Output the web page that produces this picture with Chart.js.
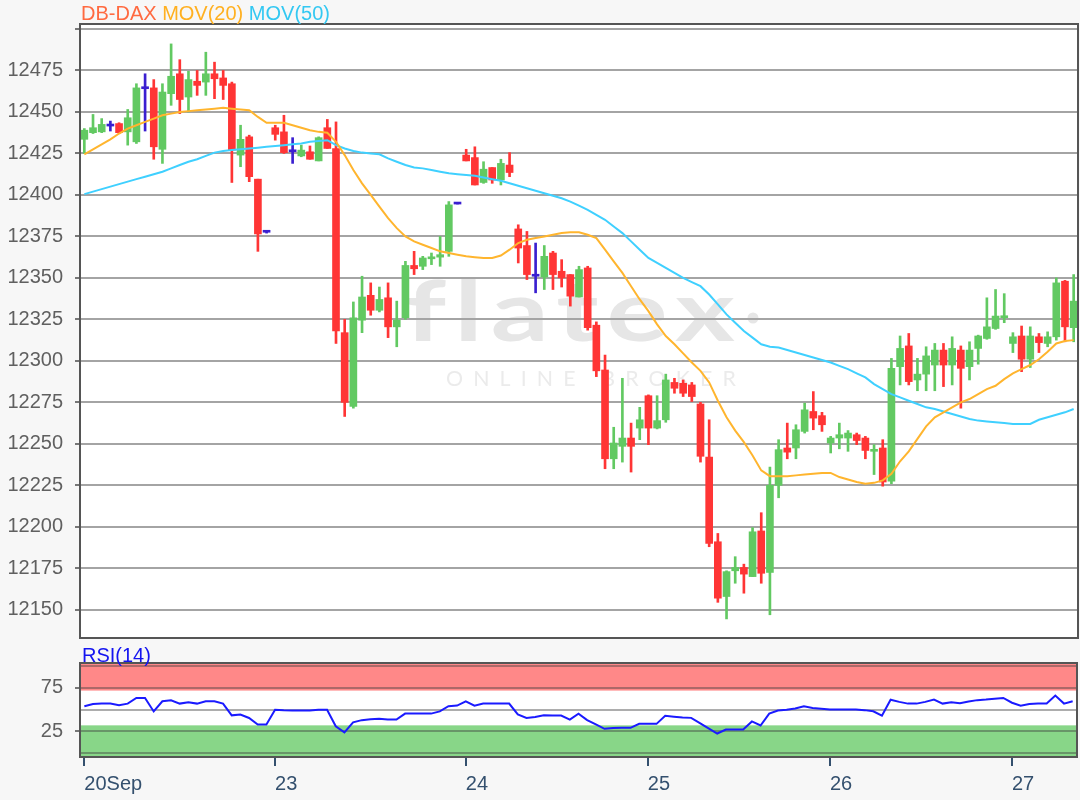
<!DOCTYPE html>
<html>
<head>
<meta charset="utf-8">
<script src="https://cdn.jsdelivr.net/npm/chart.js@4"></script>
<style>
html,body{margin:0;padding:0;background:#f7f7f7;}
#wrap{position:relative;width:1080px;height:800px;overflow:hidden;font-family:"Liberation Sans",Arial,sans-serif;}
#c1{position:absolute;left:0;top:0;}
#c2{position:absolute;left:0;top:639px;}
.t{position:absolute;font-size:20px;line-height:20px;white-space:pre;z-index:2;}
</style>
</head>
<body>
<div id="wrap">
<canvas id="c1" width="1080" height="662"></canvas>
<canvas id="c2" width="1080" height="161"></canvas>
<div class="t" style="left:81px;top:3px"><span style="color:#ff6a40">DB-DAX</span> <span style="color:#ffb020">MOV(20)</span> <span style="color:#33c8f2">MOV(50)</span></div>
<div class="t" style="left:82px;top:645px;color:#1414f0">RSI(14)</div>
</div>
<script>
// ---------- DATA ----------
const dayTickIndex  = [0, 22, 44, 65, 86, 107];
const dayTickLabels = ['20Sep', '23', '24', '25', '26', '27'];
const priceTicks = [12150,12175,12200,12225,12250,12275,12300,12325,12350,12375,12400,12425,12450,12475,12500];
const rsiGridValues = [0, 25, 50, 75, 100];
const rsiLabelValues = [25, 75];
const rsiOverbought = 72;
const rsiOversold = 32;

const opens = [12433.5,12437.5,12438,12441.5,12443,12438,12432,12464,12464.5,12427.5,
12461,12473,12459,12468.5,12468,12473,12470.5,12467,12424,12435,
12409.5,12377.5,12440.5,12438,12426,12423.5,12426,12420.5,12440.5,12428,
12317,12272.5,12324.5,12339.5,12330.5,12338,12320.5,12326,12357.5,12357,
12361.5,12362.5,12366,12394.5,12424,12422.5,12407.5,12416.5,12409,12418,
12379.5,12369.5,12351,12350.5,12365,12354,12352,12338.5,12356,12321.5,
12294.5,12241,12248.5,12253.5,12259.5,12279,12259.5,12264.5,12287,12286.5,
12285.5,12274,12242,12191,12158,12173.5,12175.5,12170,12197.5,12172.5,
12225,12247.5,12247.5,12257.5,12269.5,12267,12250.5,12253.5,12253.5,12255.5,
12253.5,12245.5,12247.5,12227.5,12296.5,12309,12288.5,12292,12297.5,12306.5,
12297.5,12306.5,12296.5,12307.5,12313.5,12319.5,12326,12310.5,12315,12301,
12314.5,12310.5,12314.5,12348,12320];

const highs = [12440,12448.5,12446,12444.5,12443.5,12451.5,12467,12473,12469.5,12467,
12491,12481.5,12474.5,12475,12486,12480,12475,12468,12442,12436,
12409.5,12378,12442,12448,12434.5,12430,12429.5,12435,12445.5,12444,
12325,12335.5,12351,12347,12344.5,12347,12336,12360,12366,12363,
12365,12375,12396,12394.5,12427.5,12429,12420,12416.5,12421.5,12425.5,
12382,12378,12371,12369.5,12366,12361,12352,12357,12357,12323.5,
12303.5,12260,12289.5,12262.5,12272,12279.5,12279,12292,12289.5,12288.5,
12287,12275,12264.5,12196,12173.5,12182,12177.5,12199.5,12208.5,12236,
12252.5,12262.5,12261.5,12274.5,12281.5,12269,12254.5,12262.5,12258,12256.5,
12254.5,12249.5,12252.5,12301.5,12315,12316.5,12301.5,12308.5,12310.5,12310.5,
12314.5,12309,12311.5,12315.5,12338,12343,12340.5,12317,12321,12320.5,
12316.5,12317.5,12350,12348.5,12352];

const lows = [12425,12437,12437.5,12438.5,12437,12430,12431,12438.5,12421.5,12419,
12454,12449,12450,12460,12460,12458,12457.5,12407.5,12417,12408,
12366,12377,12433,12425,12419,12423,12421.5,12420.5,12428,12310.5,
12266.5,12271.5,12317,12327.5,12329.5,12314,12308.5,12325,12352,12355,
12358,12357,12363,12394.5,12420.5,12406,12407,12407,12406,12411,
12359,12349,12341,12343,12343,12344.5,12333,12338.5,12318.5,12290.5,
12235,12235,12239,12233,12252.5,12249.5,12259,12263,12280.5,12278.5,
12275.5,12239,12188,12154.5,12144.5,12166,12160,12170,12166,12147,
12217.5,12241,12241,12256.5,12258.5,12257.5,12244.5,12247,12245.5,12249.5,
12241,12231.5,12224.5,12226,12285.5,12285.5,12282,12282,12282,12284.5,
12285.5,12271.5,12288.5,12298,12313,12319,12323,12305,12293.5,12296,
12305,12308.5,12312.5,12311.5,12311.5];

const closes = [12439,12440.5,12442.5,12441.5,12437.5,12446.5,12464.5,12464,12429,12462,
12471.5,12457.5,12469.5,12466,12473,12470,12466,12427,12433.5,12411,
12376.5,12377.5,12436.5,12425.5,12426,12427,12421.5,12434.5,12428,12318,
12275,12326,12338.5,12330.5,12337,12320.5,12324.5,12357.5,12355.5,12362,
12362,12364,12394,12394.5,12420.5,12406,12415.5,12409,12419,12413.5,
12368,12352,12351,12363,12352,12350,12339,12355,12320,12294,
12241,12250.5,12253.5,12248.5,12264.5,12259.5,12264,12288.5,12283.5,12280.5,
12278.5,12242.5,12190,12157,12173,12175.5,12171.5,12197,12172,12225,
12246.5,12245,12258.5,12270.5,12265.5,12261.5,12253.5,12255.5,12256.5,12252,
12246,12246.5,12227,12295.5,12307.5,12287.5,12292,12303,12306.5,12297.5,
12307.5,12295.5,12306.5,12315,12320.5,12327,12327,12314.5,12301,12315,
12311,12314.5,12347,12320.5,12336];

const ma20 = [12424.5,12427.5,12430.5,12433.5,12437,12440,12442,12444,12446,12448,
12449,12450,12450.5,12451,12451.5,12452,12452.5,12452,12451.5,12451,
12447,12443.5,12443.5,12443.5,12442,12440.5,12439,12438,12437.5,12432,
12424,12415,12407,12400,12393,12386,12380,12375,12372,12370,
12368,12366,12365,12364,12363,12362.5,12362,12362,12363.5,12367,
12371,12373,12374,12375,12376,12377,12377.5,12377.5,12376,12374,
12367,12360,12353,12345,12337,12330,12322,12315,12310,12304.5,
12299,12294,12287,12276,12266,12258,12251,12243,12234,12230.5,
12230.5,12230.5,12231,12231.5,12232,12232.5,12232.5,12230,12228.5,12227,
12226,12226.5,12228,12232,12239.5,12245.5,12253,12260.5,12266,12269,
12272,12275,12277,12280,12283,12285,12289,12292.5,12295,12297.5,
12301,12305.5,12310.5,12312,12312.5];

const ma50 = [12400.5,12402,12403.5,12405,12406.5,12408,12409.5,12411,12412.5,12414,
12416,12418,12420,12421.5,12423.5,12425.5,12426.5,12427,12427.5,12428,
12428.5,12429,12429.5,12430,12430.5,12431,12432,12432.5,12433,12430,
12428,12426.5,12425.5,12425,12424.5,12422,12420,12418,12416.5,12416,
12415,12414,12413,12412.5,12412,12411.5,12410.5,12409.5,12408.5,12407,
12405.5,12404,12402.5,12401,12399.5,12398,12396,12393.5,12391,12388,
12385,12381,12377,12372,12367,12362,12359,12356,12353,12350,
12347.5,12345,12340,12334,12328,12323,12318,12314,12310,12308.5,
12308,12306.5,12305,12303.5,12302,12300.5,12299,12297,12295,12292.5,
12290,12286,12283,12280,12278,12276,12274,12272,12271,12269.5,
12268,12266.5,12265,12264,12263.5,12263,12262.5,12262,12262,12262,
12264.5,12266,12267.5,12269,12271];

const rsi = [54,56.5,57,57,55,57,63.5,63.5,48,59.7,
60.8,57,58.5,57,59.7,59.7,57,43.5,44.5,40.5,
33,33,50,49.3,49.2,49.1,49,50,50,31,
24,35.5,38,39,39.5,38.7,38.6,45.5,45.5,45.5,
45.5,48,54,54.7,59.7,54.7,57,57,57,57,
44.5,40.6,41.7,43.5,43.2,43.2,38.6,45.5,38,33,
28,29,29.1,29.1,33.7,33.7,33.7,43,42,41,
40.6,34.5,28.5,22.6,27.2,27.2,27.2,36.5,31.8,45.5,
49,50,51.3,54,52,51,50.1,50.1,50.1,50.1,
49.5,48.2,43.2,61.5,59,57,57,59,61.6,57,
58.5,57.5,59.5,61,61.6,62.5,63.5,58,54.5,56.5,
57,57,66.2,57,59.7];

// ---------- BUILD ----------
const GREEN = '#62c962', RED = '#ff3535', BLUE = '#3a1fd0';
const idxLabels = opens.map((_, i) => i);
const candleColors = opens.map((o, i) => closes[i] > o ? GREEN : (closes[i] < o ? RED : BLUE));
const bodies = opens.map((o, i) => [o, closes[i]]);
const wicks = lows.map((l, i) => [l, highs[i]]);
const FONT = {family: '"Liberation Sans", Arial, sans-serif', size: 20};

function drawWatermark(ctx) {
  ctx.save();
  ctx.fillStyle = '#e6e6e6';
  ctx.font = '700 84px Lato';
  ctx.textBaseline = 'alphabetic';
  try { ctx.letterSpacing = '6px'; } catch (e) {}
  let w = ctx.measureText('flatex').width;
  ctx.translate(405, 341);
  ctx.scale(338 / w, 1);
  ctx.fillText('flatex', 0, 0);
  ctx.restore();
  ctx.save();
  ctx.fillStyle = '#e6e6e6';
  ctx.beginPath(); ctx.arc(753, 318, 5.5, 0, Math.PI * 2); ctx.fill();
  ctx.fillStyle = '#ebebeb';
  ctx.font = '400 21px Lato';
  try { ctx.letterSpacing = '10px'; } catch (e) {}
  w = ctx.measureText('ONLINE BROKER').width;
  ctx.translate(446, 386);
  ctx.scale(300 / w, 1);
  ctx.fillText('ONLINE BROKER', 0, 0);
  ctx.restore();
}

const mainBg = {
  id: 'mainBg',
  beforeDraw(chart) {
    const {ctx, chartArea: a} = chart;
    ctx.save();
    ctx.fillStyle = '#ffffff';
    ctx.fillRect(a.left, a.top, a.width, a.height);
    ctx.restore();
    drawWatermark(ctx);
  },
  afterDraw(chart) {
    const {ctx, chartArea: a} = chart;
    ctx.save();
    ctx.strokeStyle = '#555555';
    ctx.lineWidth = 2;
    ctx.strokeRect(a.left, a.top, a.width, a.height);
    ctx.restore();
  }
};

new Chart(document.getElementById('c1'), {
  type: 'bar',
  data: {
    labels: idxLabels,
    datasets: [
      {type: 'line', data: ma20, borderColor: '#ffb52e', borderWidth: 2, pointRadius: 0, tension: 0, order: 0},
      {type: 'line', data: ma50, borderColor: '#3fd0ff', borderWidth: 2, pointRadius: 0, tension: 0, order: 0},
      {data: bodies, backgroundColor: candleColors, barThickness: 7, grouped: false, minBarLength: 2, order: 1},
      {data: wicks, backgroundColor: candleColors, barThickness: 2, grouped: false, minBarLength: 1, order: 2}
    ]
  },
  options: {
    responsive: false, animation: false, devicePixelRatio: 1,
    layout: {padding: {top: 24, right: 2, bottom: 0, left: 0}},
    plugins: {legend: {display: false}, tooltip: {enabled: false}},
    scales: {
      x: {type: 'category', offset: true, display: false},
      y: {
        min: 12133, max: 12503,
        afterBuildTicks: s => { s.ticks = priceTicks.map(v => ({value: v})); },
        afterFit: s => { s.width = 80; },
        ticks: {autoSkip: false, callback: v => (v === 12500 ? '' : String(v)), color: '#606060', font: FONT, padding: 12},
        grid: {color: '#a4a4a4', lineWidth: 2, tickLength: 5, tickColor: '#777777'},
        border: {display: false}
      }
    }
  },
  plugins: [mainBg]
});

const rsiBg = {
  id: 'rsiBg',
  beforeDraw(chart) {
    const {ctx, chartArea: a, scales: {y}} = chart;
    ctx.save();
    ctx.fillStyle = '#ffffff';
    ctx.fillRect(a.left, a.top, a.width, a.height);
    const yOb = y.getPixelForValue(rsiOverbought);
    const yOs = y.getPixelForValue(rsiOversold);
    ctx.fillStyle = '#ff8888';
    ctx.fillRect(a.left, a.top, a.width, yOb - a.top);
    ctx.fillStyle = '#88d688';
    ctx.fillRect(a.left, yOs, a.width, a.bottom - yOs);
    ctx.restore();
  },
  afterDraw(chart) {
    const {ctx, chartArea: a} = chart;
    ctx.save();
    ctx.strokeStyle = '#555555';
    ctx.lineWidth = 2;
    ctx.strokeRect(a.left, a.top, a.width, a.height);
    ctx.restore();
  }
};

new Chart(document.getElementById('c2'), {
  type: 'line',
  data: {
    labels: idxLabels,
    datasets: [{data: rsi, borderColor: '#1a1aff', borderWidth: 2, pointRadius: 0, tension: 0}]
  },
  options: {
    responsive: false, animation: false, devicePixelRatio: 1,
    layout: {padding: {top: 0, right: 3, bottom: 0, left: 0}},
    plugins: {legend: {display: false}, tooltip: {enabled: false}},
    scales: {
      x: {
        type: 'category', offset: true,
        afterBuildTicks: s => { s.ticks = dayTickIndex.map(v => ({value: v})); },
        afterFit: s => { s.height = 43; },
        ticks: {autoSkip: false, maxRotation: 0, minRotation: 0, align: 'start', color: '#34506e', font: FONT, padding: 6,
                callback: v => dayTickLabels[dayTickIndex.indexOf(v)]},
        grid: {drawOnChartArea: false, tickLength: 9, color: '#34506e', lineWidth: 2, offset: false},
        border: {display: false}
      },
      y: {
        min: -4.4, max: 103.7,
        afterBuildTicks: s => { s.ticks = rsiGridValues.map(v => ({value: v})); },
        afterFit: s => { s.width = 80; },
        ticks: {autoSkip: false, callback: v => (rsiLabelValues.includes(v) ? String(v) : ''), color: '#606060', font: FONT, padding: 12},
        grid: {color: 'rgba(60,60,60,0.42)', lineWidth: 2, tickLength: 5,
               tickColor: c => (c.tick && rsiLabelValues.includes(c.tick.value) ? '#777777' : 'rgba(0,0,0,0)')},
        border: {display: false}
      }
    }
  },
  plugins: [rsiBg]
});
</script>
</body>
</html>
